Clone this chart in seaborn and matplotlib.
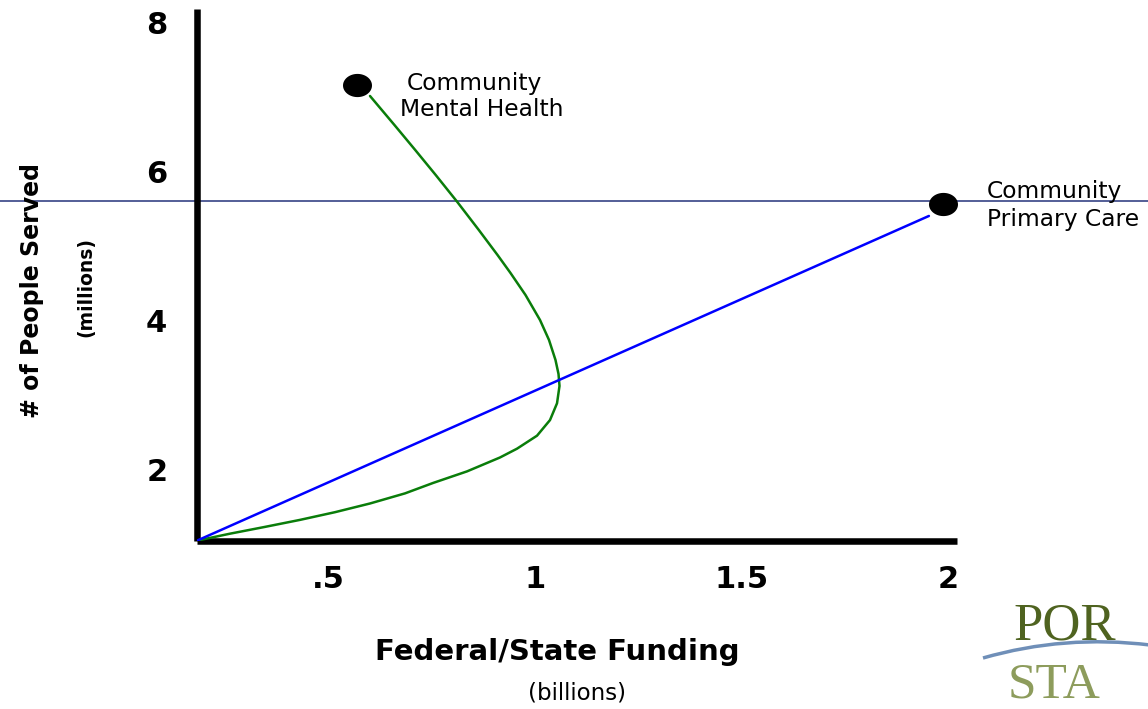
import numpy as np
import pandas as pd
import matplotlib
matplotlib.use("Agg")
import matplotlib.pyplot as plt
import seaborn as sns
from matplotlib.path import Path
from matplotlib.patches import PathPatch
from matplotlib.transforms import blended_transform_factory

# ---------------- data ----------------
mh_funding = [0.1827, 0.2626, 0.3473, 0.4320, 0.5167, 0.6014, 0.6861, 0.7539,
              0.8362, 0.9160, 0.9572, 1.0056, 1.0370, 1.0540, 1.0600, 1.0576,
              1.0503, 1.0346, 1.0128, 0.9777, 0.9414, 0.9100, 0.8647, 0.8127,
              0.7604, 0.7108, 0.6605, 0.6014]
mh_served = [1.045, 1.1383, 1.2295, 1.3235, 1.4268, 1.5436, 1.6792, 1.8188,
             1.9745, 2.1611, 2.2792, 2.4537, 2.6631, 2.8886, 3.1208, 3.2819,
             3.4698, 3.7383, 4.0067, 4.3423, 4.6376, 4.8792, 5.2148, 5.5906,
             5.9530, 6.2886, 6.6242, 7.0134]
pc_funding = [0.1827, 1.954]
pc_served = [1.045, 5.403]
end_funding = [0.570, 1.988]
end_served = [7.161, 5.570]
end_label_lines = [["Community", "Mental Health"], ["Community", "Primary Care"]]
ref_level = 5.604
x_ticks = [0.5, 1.0, 1.5, 2.0]
x_tick_labels = [".5", "1", "1.5", "2"]
y_ticks = [2, 4, 6, 8]
y_tick_labels = ["2", "4", "6", "8"]

# ---------------- style ----------------
sns.set_theme(style="white", rc={"text.color": "black", "xtick.color": "black",
                                 "ytick.color": "black", "axes.labelcolor": "black"})
plt.rcParams["font.family"] = ["DejaVu Sans"]

W, H = 1148, 709
fig = plt.figure(figsize=(W / 100, H / 100), dpi=100)
ax = fig.add_axes([196.5 / W, 1 - 541 / H, (957 - 196.5) / W, (541 - 9) / H])
ax.set_xlim(0.1815, 2.022)
ax.set_ylim(1.040, 8.181)

# reference line across the whole figure
trans = blended_transform_factory(fig.transFigure, ax.transData)
ax.plot([0, 1], [ref_level, ref_level], transform=trans, color="#24337a",
        lw=1.1, clip_on=False, zorder=1)

df_mh = pd.DataFrame({"funding": mh_funding, "served": mh_served})
df_pc = pd.DataFrame({"funding": pc_funding, "served": pc_served})
sns.lineplot(data=df_mh, x="funding", y="served", sort=False, estimator=None,
             color="#0a7d0a", lw=1.8, ax=ax, zorder=3, solid_joinstyle="round")
sns.lineplot(data=df_pc, x="funding", y="served", sort=False, estimator=None,
             color="#0000ff", lw=1.8, ax=ax, zorder=3)

# elliptical dot marker
t = np.linspace(0, 2 * np.pi, 60)
ell = Path(np.column_stack([1.25 * np.cos(t), np.sin(t)]), closed=True)
df_end = pd.DataFrame({"funding": end_funding, "served": end_served})
sns.scatterplot(data=df_end, x="funding", y="served", marker=ell, s=(29 * 0.72) ** 2,
                color="black", linewidth=0, ax=ax, zorder=5, clip_on=False)

offsets = [[(50, 1), (43, -25)], [(44, 12), (44, -16)]]
for fx, sy, lines, offs in zip(end_funding, end_served, end_label_lines, offsets):
    for line, off in zip(lines, offs):
        ax.annotate(line, (fx, sy), xytext=off, textcoords="offset pixels",
                    ha="left", va="center", fontsize=16.8, color="black",
                    annotation_clip=False)

# axes styling
for s in ["top", "right"]:
    ax.spines[s].set_visible(False)
for s in ["left", "bottom"]:
    ax.spines[s].set_linewidth(4.7)
    ax.spines[s].set_color("black")
    ax.spines[s].set_capstyle("butt")
ax.set_xticks(x_ticks)
ax.set_xticklabels(x_tick_labels)
ax.set_yticks(y_ticks)
ax.set_yticklabels(y_tick_labels)
ax.tick_params(axis="both", length=0, labelsize=22, labelcolor="black")
ax.tick_params(axis="y", pad=21)
ax.tick_params(axis="x", pad=17)
for lab in ax.get_xticklabels() + ax.get_yticklabels():
    lab.set_fontweight("bold")
ax.set_xlabel("")
ax.set_ylabel("")
ax.grid(False)

# axis titles
fig.text(32 / W, 1 - 290 / H, "# of People Served", rotation=90, ha="center",
         va="center", fontsize=17, fontweight="bold", color="black")
fig.text(86 / W, 1 - 287 / H, "(millions)", rotation=90, ha="center",
         va="center", fontsize=13.5, fontweight="bold", color="black")
fig.text(557 / W, 1 - 652 / H, "Federal/State Funding", ha="center",
         va="center", fontsize=21, fontweight="bold", color="black")
fig.text(577 / W, 1 - 693 / H, "(billions)", ha="center", va="center",
         fontsize=16.5, color="black")

# logo (partially shown at the figure edge)
fig.text(1013 / W, 1 - 639 / H, "POR", ha="left", va="baseline",
         fontsize=38, color="#4f6320", family=["Liberation Serif"])
fig.text(1008 / W, 1 - 708 / H, "STA", ha="left", va="bottom",
         fontsize=37, color="#8d9c5c", family=["Liberation Serif"])
p0, c, p2 = (983, 658), (1064.5, 634.5), (1150, 645)
arc = Path([(p0[0] / W, 1 - p0[1] / H), (c[0] / W, 1 - c[1] / H), (p2[0] / W, 1 - p2[1] / H)],
           [Path.MOVETO, Path.CURVE3, Path.CURVE3])
fig.add_artist(PathPatch(arc, transform=fig.transFigure, facecolor="none",
                         edgecolor="#6f8fb8", lw=2.5))

fig.savefig("out.png", dpi=100)
